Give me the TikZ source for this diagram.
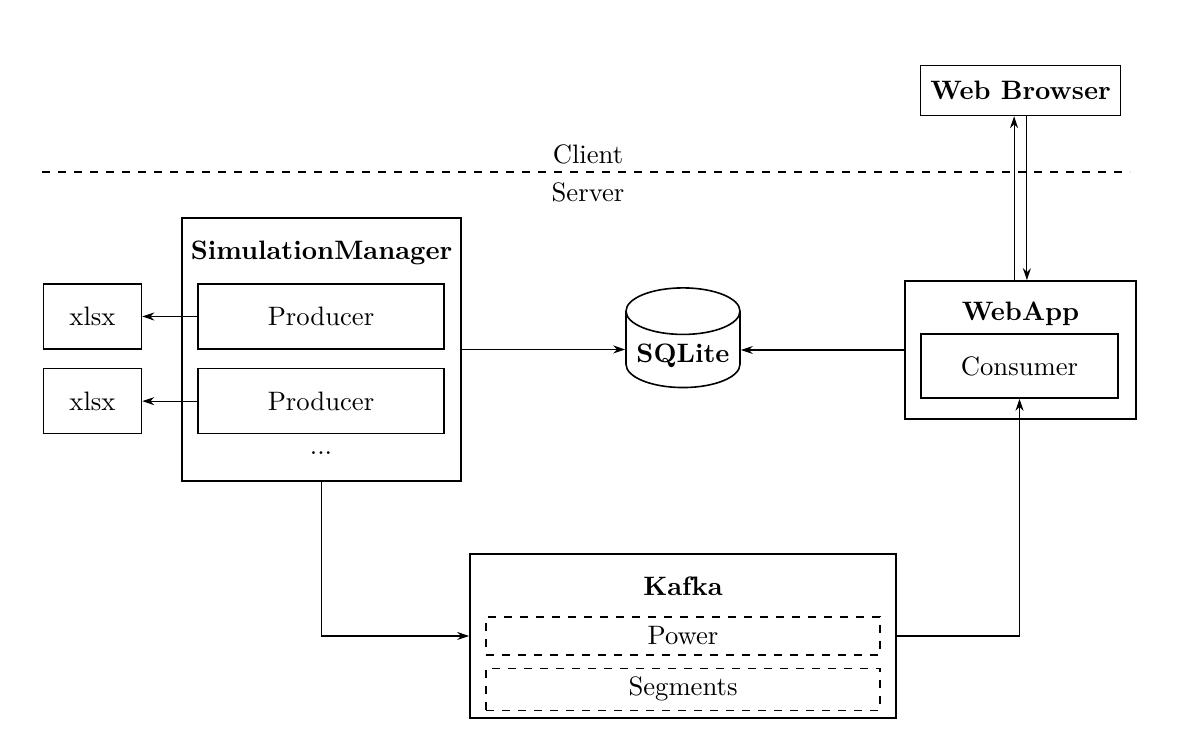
\documentclass[tikz,border=0pt]{standalone}
\usepackage{tikz}
\usetikzlibrary{arrows.meta,positioning,shapes.geometric,calc}

\begin{document}
\begin{tikzpicture}[x=0.375pt, y=-0.375pt, node distance=6.75pt and 20.6pt,
  >={Stealth[length=4.5pt,width=3pt]},
  box/.style={draw, line width=0.6pt, rectangle, align=center},
  part/.style={draw, line width=0.6pt, rectangle, minimum width=92.25pt, minimum height=24.4pt},
  file/.style={draw, line width=0.6pt, rectangle, minimum width=36.75pt, minimum height=24.4pt},
  topic/.style={draw, dashed, line width=0.4pt, rectangle, minimum width=147.75pt, inner sep=0pt},
  title/.style={font=\bfseries, inner sep=0pt},
  db/.style={draw, line width=0.6pt, cylinder, shape border rotate=90, aspect=0.42,
    minimum width=42.75pt, minimum height=37pt, font=\bfseries}]
  \useasboundingbox (0,0) rectangle (1200,743);

  % client / server split
  \coordinate (splitleft) at (42,172);
  \coordinate (splitright) at (1130,172);
  \draw[dashed, line width=0.5pt] (splitleft) -- (splitright);
  \node (client) at (588,154) {Client};
  \node (server) at (588,192) {Server};

  % simulation manager
  \node[box, minimum width=104.6pt, minimum height=98.6pt] (simmgr) at (321.5,349.5) {};
  \node[title] (simtitle) at ([yshift=-13.5pt]simmgr.north) {SimulationManager};
  \node[part] (prod1) at (321,316.5) {Producer};
  \node[part, below=of prod1] (prod2) {Producer};
  \node[below=3pt of prod2] (dots) {...};
  \node[file, left=of prod1] (xlsx1) {xlsx};
  \node[file, left=of prod2] (xlsx2) {xlsx};

  % database
  \node[db] (sqlite) at (683,356) {SQLite};

  % web app
  \node[box, minimum width=86.6pt, minimum height=51.75pt] (webapp) at (1020.5,350) {};
  \node[title] (webtitle) at ([yshift=-12.6pt]webapp.north) {WebApp};
  \node[box, minimum width=73.9pt, minimum height=24pt] (consumer) at (1019.5,366) {Consumer};
  \node[box, font=\bfseries, minimum width=75pt, minimum height=18.75pt, above=61.5pt of webapp] (browser) {Web Browser};

  % kafka
  \node[box, minimum width=159.75pt, minimum height=61.5pt] (kafka) at (683,636) {};
  \node[title] (kafkatitle) at ([yshift=-12.4pt]kafka.north) {Kafka};
  \node[topic, minimum height=14.25pt] (power) at (683,636) {Power};
  \node[topic, minimum height=15.75pt, below=4.5pt of power] (segments) {Segments};

  \draw[->] (simmgr.east) -- (simmgr.east -| sqlite.west);
  \draw[->] (webapp.west) -- (webapp.west -| sqlite.east);
  \draw[->] (prod1) -- (xlsx1);
  \draw[->] (prod2) -- (xlsx2);
  \draw[->] ([xshift=-2.4pt]webapp.north) -- ([xshift=-2.4pt]webapp.north |- browser.south);
  \draw[->] ([xshift=2.4pt]webapp.north |- browser.south) -- ([xshift=2.4pt]webapp.north);
  \draw[->] (simmgr.south) |- (kafka.west);
  \draw[->] (kafka.east) -| (consumer.south);
\end{tikzpicture}
\end{document}
